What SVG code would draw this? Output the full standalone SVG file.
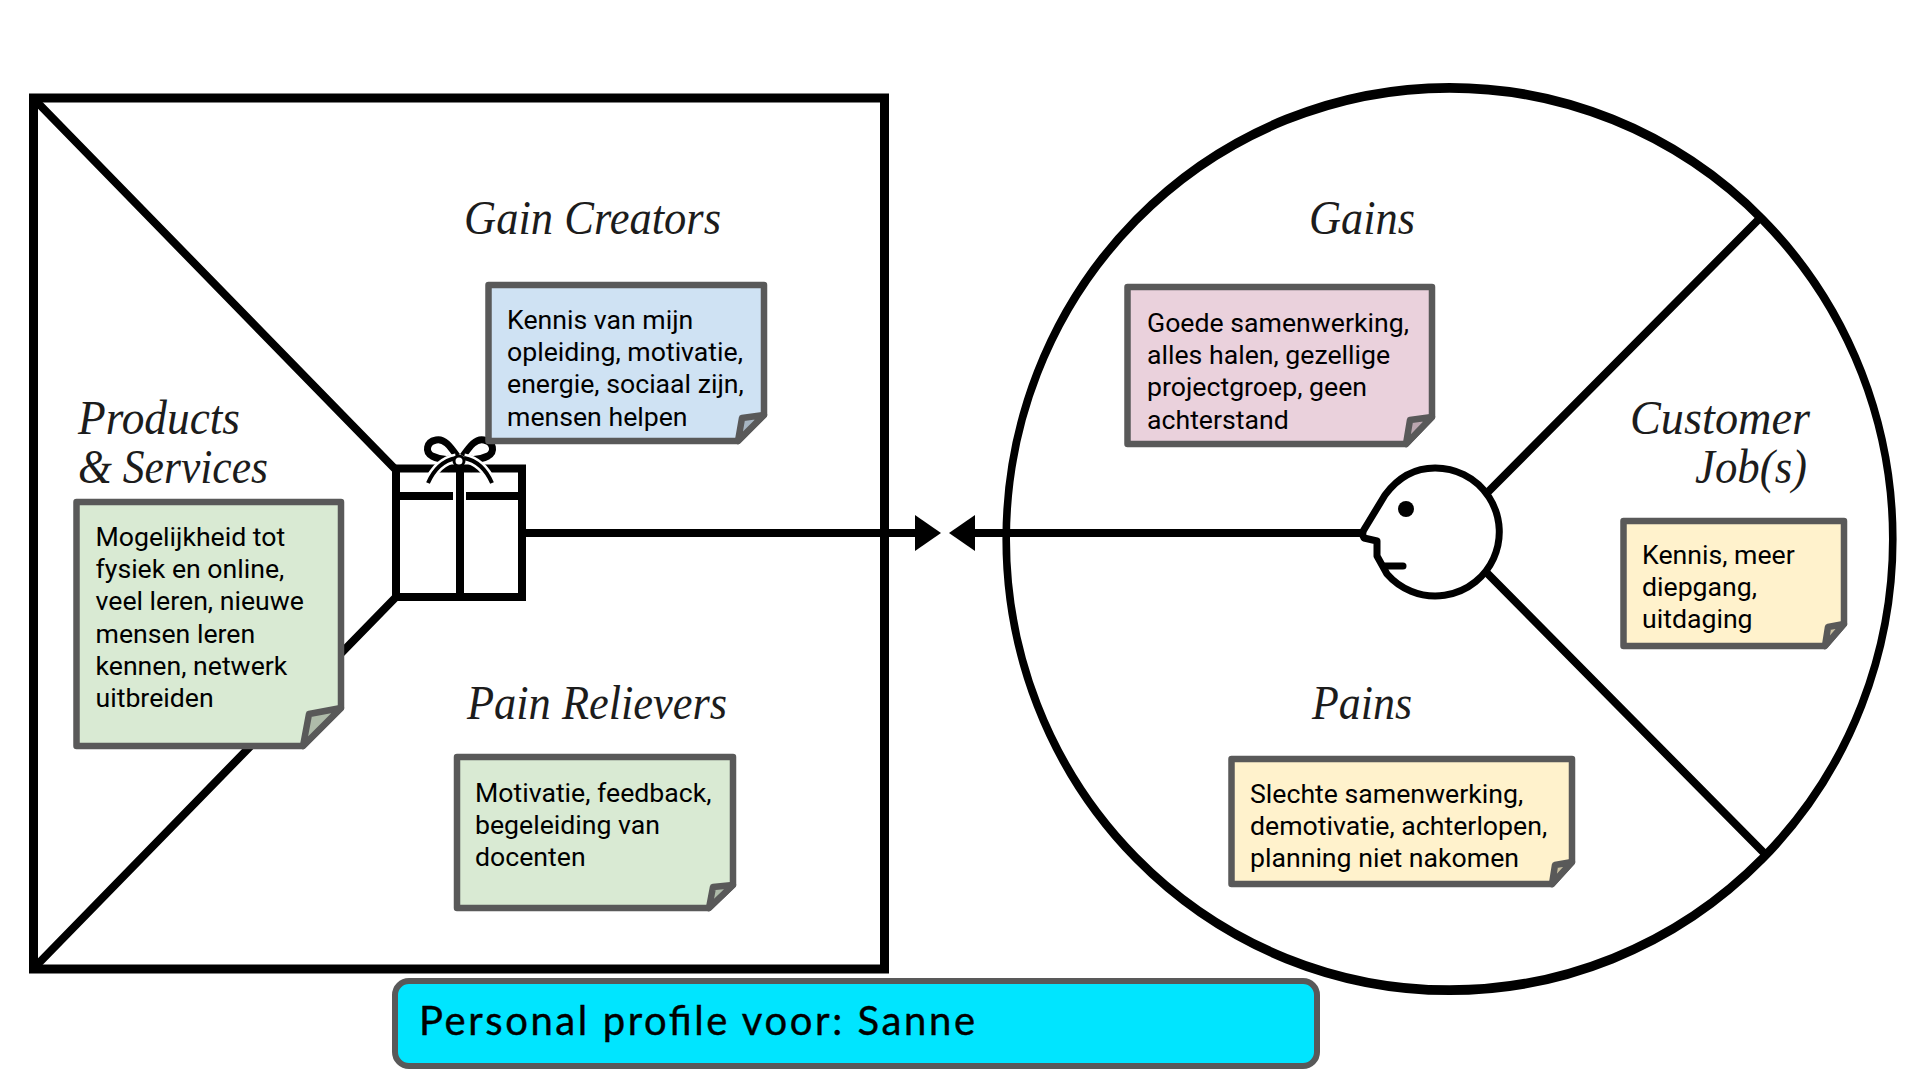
<svg xmlns="http://www.w3.org/2000/svg" width="1920" height="1080" viewBox="0 0 1920 1080">
<style>
.bg{fill:#fff}
.k{fill:none;stroke:#000;stroke-width:8}
.hd{font-family:"Liberation Serif",serif;font-style:italic;font-size:48px;fill:#1c1c1c}
.nt{font-family:Roboto,"Liberation Sans",sans-serif;font-size:26.67px;fill:#000}
.n,.fold{stroke:#595959;stroke-width:6.500;stroke-linejoin:round}
.blue{fill:#cfe2f3}.green{fill:#d9ead3}.pink{fill:#ead1dc}.yellow{fill:#fff2cc}
</style>
<defs>
<marker id="ah" markerUnits="userSpaceOnUse" markerWidth="27" markerHeight="36" refX="0" refY="18" orient="auto"><path d="M0 0L26 18L0 36Z" fill="#000"/></marker>
</defs>
<rect class="bg" width="1920" height="1080"/>
<g id="canvas-square">
<rect class="k" x="33.500" y="98" width="851" height="871" style="stroke-width:9"/>
<path class="k" d="M35 100L396 470M396 597L35 967"/>
</g>
<g id="canvas-circle">
<ellipse class="k" transform="translate(1449.500 539) scale(1 1.280)" rx="443.300" ry="352.500" style="stroke-width:7.600"/>
<path class="k" d="M1487 493L1762 216M1487 573L1766 855"/>
</g>
<g id="connectors">
<path d="M525 533H915" stroke="#000" stroke-width="8" fill="none" marker-end="url(#ah)"/>
<path d="M1372 533H975" stroke="#000" stroke-width="8" fill="none" marker-end="url(#ah)"/>
</g>
<g id="gift">
<rect class="bg" x="396" y="468" width="126" height="129"/>
<path class="k" d="M396 468.500H522V597H396ZM396 496H453M466 496H522M460 460V597"/>
<path d="M457 456C450 446 444 438 436 440C426 442 425 452 432 456C438 459 445 460 452 459M463 456C470 446 476 438 484 440C494 442 495 452 488 456C482 459 475 460 468 459" fill="none" stroke="#000" stroke-width="7"/>
<path d="M428 483C435 467 446 460 456 458M492 483C485 467 474 460 464 458" fill="none" stroke="#fff" stroke-width="9"/>
<path d="M428 483C435 467 446 460 456 458M492 483C485 467 474 460 464 458" fill="none" stroke="#000" stroke-width="4"/>
<path d="M448 471C454 467 466 467 472 471" fill="none" stroke="#000" stroke-width="3"/>
<circle cx="459" cy="461" r="5" fill="#fff" stroke="#000" stroke-width="3"/>
</g>
<g id="customer-face">
<path d="M1435 468A64 64 0 1 1 1387 574L1377 556V541L1364 538Q1361 533 1365 528L1385 495Q1405 468 1435 468Z" fill="#fff" stroke="#000" stroke-width="7" stroke-linejoin="round"/>
<circle cx="1406" cy="509" r="8" fill="#000"/>
<path d="M1385 566H1403" stroke="#000" stroke-width="7" stroke-linecap="round"/>
</g>
<g id="label-gain-creators"><text class="hd" x="464" y="234" textLength="257" lengthAdjust="spacingAndGlyphs">Gain Creators</text></g>
<g id="label-pain-relievers"><text class="hd" x="467" y="719" textLength="260" lengthAdjust="spacingAndGlyphs">Pain Relievers</text></g>
<g id="label-products"><text class="hd" x="78" y="434" textLength="162" lengthAdjust="spacingAndGlyphs">Products</text><text class="hd" x="78" y="483" textLength="190" lengthAdjust="spacingAndGlyphs">&amp; Services</text></g>
<g id="label-gains"><text class="hd" x="1309" y="234" textLength="106" lengthAdjust="spacingAndGlyphs">Gains</text></g>
<g id="label-pains"><text class="hd" x="1312" y="719" textLength="100" lengthAdjust="spacingAndGlyphs">Pains</text></g>
<g id="label-jobs"><text class="hd" x="1630" y="434" textLength="180" lengthAdjust="spacingAndGlyphs">Customer</text><text class="hd" x="1695" y="483" textLength="112" lengthAdjust="spacingAndGlyphs">Job(s)</text></g>
<g id="note-gain-creators">
<path class="n blue" d="M488.500 285H764V415L738 441H488.500Z"/>
<path class="fold" fill="#a6b5c2" d="M738 441L742 418L764 415Z"/>
<text class="nt" y="329"><tspan x="507">Kennis van mijn</tspan><tspan x="507" dy="32.200">opleiding, motivatie,</tspan><tspan x="507" dy="32.200">energie, sociaal zijn,</tspan><tspan x="507" dy="32.200">mensen helpen</tspan></text>
</g>
<g id="note-products">
<path class="n green" d="M76.500 502H341V708L303 746H76.500Z"/>
<path class="fold" fill="#aebba9" d="M303 746L309 714L341 708Z"/>
<text class="nt" y="546"><tspan x="95.500">Mogelijkheid tot</tspan><tspan x="95.500" dy="32.200">fysiek en online,</tspan><tspan x="95.500" dy="32.200">veel leren, nieuwe</tspan><tspan x="95.500" dy="32.200">mensen leren</tspan><tspan x="95.500" dy="32.200">kennen, netwerk</tspan><tspan x="95.500" dy="32.200">uitbreiden</tspan></text>
</g>
<g id="note-pain-relievers">
<path class="n green" d="M457 757H733V885L709 908H457Z"/>
<path class="fold" fill="#aebba9" d="M709 908L713 887L733 885Z"/>
<text class="nt" y="802"><tspan x="475">Motivatie, feedback,</tspan><tspan x="475" dy="32.200">begeleiding van</tspan><tspan x="475" dy="32.200">docenten</tspan></text>
</g>
<g id="note-gains">
<path class="n pink" d="M1127.500 287H1432V417L1406 444H1127.500Z"/>
<path class="fold" fill="#bba7b0" d="M1406 444L1410 420L1432 417Z"/>
<text class="nt" y="332"><tspan x="1147">Goede samenwerking,</tspan><tspan x="1147" dy="32.200">alles halen, gezellige</tspan><tspan x="1147" dy="32.200">projectgroep, geen</tspan><tspan x="1147" dy="32.200">achterstand</tspan></text>
</g>
<g id="note-jobs">
<path class="n yellow" d="M1623.500 521H1844V624L1825 646H1623.500Z"/>
<path class="fold" fill="#ccc2a3" d="M1825 646L1828 627L1844 624Z"/>
<text class="nt" y="564"><tspan x="1642">Kennis, meer</tspan><tspan x="1642" dy="32.200">diepgang,</tspan><tspan x="1642" dy="32.200">uitdaging</tspan></text>
</g>
<g id="note-pains">
<path class="n yellow" d="M1231.500 759H1572V862L1552 884H1231.500Z"/>
<path class="fold" fill="#ccc2a3" d="M1552 884L1555 865L1572 862Z"/>
<text class="nt" y="803"><tspan x="1250">Slechte samenwerking,</tspan><tspan x="1250" dy="32.200">demotivatie, achterlopen,</tspan><tspan x="1250" dy="32.200">planning niet nakomen</tspan></text>
</g>
<g id="title">
<rect x="395" y="981" width="922" height="85" rx="14" fill="#00e5ff" stroke="#595959" stroke-width="6"/>
<text x="419" y="1035" font-family="Lato,sans-serif" font-size="40" fill="#000" stroke="#000" stroke-width="0.400" textLength="556" lengthAdjust="spacing">Personal profile voor: Sanne</text>
</g>
</svg>
